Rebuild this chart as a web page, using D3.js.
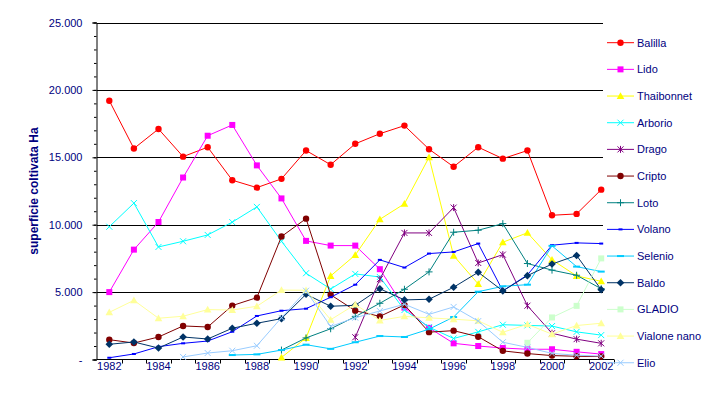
<!DOCTYPE html>
<html lang="it">
<head>
<meta charset="UTF-8">
<title>Superficie coltivata per varietà</title>
<script src="https://cdn.jsdelivr.net/npm/d3@7/dist/d3.min.js"></script>
<style>
  body { margin: 0; background: #fff; }
  text { font-family: Arial, "Liberation Sans", sans-serif; }
</style>
</head>
<body>
<svg id="chart" width="707" height="395"></svg>
<script>
// anni e valori (ettari)
const years = d3.range(1982, 2003);
const yearLabels = [1982, 1984, 1986, 1988, 1990, 1992, 1994, 1996, 1998, 2000, 2002];
const yTicks = [0, 5000, 10000, 15000, 20000, 25000];

const balilla = [19200, 15650, 17100, 15050, 15750, 13300, 12750, 13400, 15500, 14450, 16000, 16750, 17350, 15600, 14300, 15750, 14900, 15500, 10700, 10800, 12600];
const lido = [5000, 8150, 10200, 13500, 16600, 17400, 14400, 11950, 8800, 8450, 8450, 6700, 3850, 2350, 1200, 1000, 850, 760, 760, 570, 400];
const thaibonnet = [null, null, null, null, null, null, null, 150, 1600, 6200, 7750, 10400, 11550, 15000, 7700, 5600, 8700, 9400, 7400, 6200, 5800];
const arborio = [9850, 11600, 8350, 8770, 9240, 10190, 11320, 8770, 6400, 5230, 6350, 6120, 3670, 2400, 1560, 2050, 2580, 2530, 2480, 2050, 1810];
const drago = [null, null, null, null, null, null, null, null, null, null, 1650, 5960, 9390, 9390, 11270, 7160, 7780, 3990, 1950, 1510, 1200];
const cripto = [1470, 1220, 1670, 2490, 2410, 4000, 4590, 9120, 10450, 4800, 3620, 3200, 4050, 2030, 2140, 1690, 640, 440, 290, 240, 220];
const loto = [null, null, null, null, null, null, null, 700, 1600, 2280, 3180, 4170, 5210, 6500, 9440, 9590, 10080, 7120, 6630, 6250, 5250];
const volano = [130, 410, 950, 1200, 1370, 2060, 3230, 3620, 3770, 4620, 5550, 7390, 6820, 7860, 7980, 8600, 5090, 6270, 8480, 8650, 8600];
const selenio = [null, null, null, null, null, 330, 380, 700, 1100, 790, 1280, 1740, 1670, 2250, 3150, 5030, 5430, 5550, 8430, 6890, 6520];
const baldo = [1130, 1300, 850, 1670, 1520, 2320, 2690, 3030, 4840, 3950, 4020, 5250, 4420, 4470, 5360, 6470, 5090, 6220, 7080, 7720, 5180];
const gladio = [null, null, null, null, null, null, null, null, null, null, null, null, null, null, null, null, null, 1240, 3120, 3980, 7500];
const vialone = [3500, 4390, 3060, 3210, 3700, 3670, 3950, 5150, 5140, 2950, 4080, 2900, 3200, 3090, 2990, 2870, 2020, 2610, 1880, 2520, 2690];
const elio = [null, null, null, 190, 480, 650, 1020, 3100, 5100, 2450, 3100, 3600, 4100, 3350, 3900, 2850, 1280, 900, 450, 320, 250];

const names = ["Balilla", "Lido", "Thaibonnet", "Arborio", "Drago", "Cripto", "Loto", "Volano", "Selenio", "Baldo", "GLADIO", "Vialone nano", "Elio"];
const valueLists = [balilla, lido, thaibonnet, arborio, drago, cripto, loto, volano, selenio, baldo, gladio, vialone, elio];
const colors = ["#FF0000", "#FF00FF", "#FFFF00", "#00FFFF", "#800080", "#800000", "#008080", "#0000FF", "#00CCFF", "#003366", "#CCFFCC", "#FFFF99", "#99CCFF"];
const markers = ["circle", "square", "triangle", "cross", "star", "circle", "plus", "dash", "longdash", "diamond", "square", "triangle", "cross"];

const series = names.map((name, i) => ({
    name: name,
    color: colors[i],
    marker: markers[i],
    points: years.map((yr, j) => ({ year: yr, v: valueLists[i][j] }))
}));

const navy = "#000080";
const svg = d3.select("#chart");

const x = d3.scaleBand().domain(years).range([97, 613.5]);
const y = d3.scaleLinear().domain([0, 25000]).range([359.5, 22.5]);
const cx = yr => x(yr) + x.bandwidth() / 2;

// griglia orizzontale
svg.append("g")
    .selectAll("line")
    .data(yTicks.slice(1))
    .enter()
    .append("line")
    .attr("x1", 97).attr("x2", 603)
    .attr("y1", d => Math.round(y(d)) + 0.5).attr("y2", d => Math.round(y(d)) + 0.5)
    .attr("stroke", "#000");

// asse Y: tacche minori ogni 1000
svg.append("g")
    .attr("transform", "translate(96.5,0)")
    .call(d3.axisLeft(y).tickValues(d3.range(0, 25001, 1000)).tickSize(2.5).tickFormat(""))
    .call(g => g.select(".domain").remove())
    .selectAll("line").attr("stroke", "#000");

// asse Y: tacche principali ed etichette
const yFmt = d => d === 0 ? "-" : d3.format(",")(d).replace(",", ".");
const yAxis = svg.append("g")
    .attr("transform", "translate(96.5,0)")
    .call(d3.axisLeft(y).tickValues(yTicks).tickSize(4).tickPadding(10).tickFormat(yFmt));
yAxis.select(".domain").attr("stroke", "#000");
yAxis.selectAll("line").attr("stroke", "#000");
yAxis.selectAll("text").attr("fill", navy).attr("font-size", "11px")
    .attr("font-family", "Arial, 'Liberation Sans', sans-serif");

// asse X
svg.append("line")
    .attr("x1", 97).attr("x2", 614)
    .attr("y1", 359.5).attr("y2", 359.5)
    .attr("stroke", "#000");
svg.append("g")
    .selectAll("line")
    .data(years.slice(1).map(yr => x(yr)).concat([613.5]))
    .enter()
    .append("line")
    .attr("x1", d => Math.round(d) + 0.5).attr("x2", d => Math.round(d) + 0.5)
    .attr("y1", 359.5).attr("y2", 363.5)
    .attr("stroke", "#000");
const xAxis = svg.append("g")
    .attr("transform", "translate(0,359.5)")
    .call(d3.axisBottom(x).tickValues(yearLabels).tickSize(0).tickPadding(3));
xAxis.select(".domain").remove();
xAxis.selectAll("text").attr("fill", navy).attr("font-size", "11px")
    .attr("font-family", "Arial, 'Liberation Sans', sans-serif");

// titolo asse Y
svg.append("text")
    .attr("transform", "translate(38,191) rotate(-90)")
    .attr("text-anchor", "middle")
    .attr("font-size", "12px")
    .attr("font-weight", "bold")
    .attr("fill", navy)
    .text("superficie coltivata Ha");

// marcatori in stile Excel
function drawMarker(g, type, color, px, py) {
    if (type === "circle") {
        g.append("circle").attr("cx", px).attr("cy", py).attr("r", 3.2).attr("fill", color);
    } else if (type === "square") {
        g.append("rect").attr("x", px - 3).attr("y", py - 3).attr("width", 6).attr("height", 6).attr("fill", color);
    } else if (type === "triangle") {
        g.append("path").attr("d", "M0,-3.8L3.8,3L-3.8,3Z")
            .attr("transform", `translate(${px},${py})`).attr("fill", color);
    } else if (type === "diamond") {
        g.append("path").attr("d", "M0,-3.8L3.8,0L0,3.8L-3.8,0Z")
            .attr("transform", `translate(${px},${py})`).attr("fill", color);
    } else if (type === "cross") {
        g.append("path").attr("d", "M-3,-3L3,3M-3,3L3,-3")
            .attr("transform", `translate(${px},${py})`).attr("stroke", color).attr("fill", "none");
    } else if (type === "star") {
        g.append("path").attr("d", "M-3,-3L3,3M-3,3L3,-3M0,-3.5V3.5")
            .attr("transform", `translate(${px},${py})`).attr("stroke", color).attr("fill", "none");
    } else if (type === "plus") {
        g.append("path").attr("d", "M-3.5,0H3.5M0,-3.5V3.5")
            .attr("transform", `translate(${px},${py})`).attr("stroke", color).attr("fill", "none");
    } else if (type === "dash") {
        g.append("rect").attr("x", px - 2).attr("y", py - 1).attr("width", 4).attr("height", 2).attr("fill", color);
    } else if (type === "longdash") {
        g.append("rect").attr("x", px - 3.5).attr("y", py - 1).attr("width", 7).attr("height", 2).attr("fill", color);
    }
}

// serie
const line = d3.line()
    .defined(d => d.v != null)
    .x(d => cx(d.year))
    .y(d => y(d.v));

series.forEach(s => {
    const g = svg.append("g");
    g.append("path")
        .attr("d", line(s.points))
        .attr("fill", "none")
        .attr("stroke", s.color)
        .attr("stroke-width", 1);
    s.points.filter(d => d.v != null).forEach(d => drawMarker(g, s.marker, s.color, cx(d.year), y(d.v)));
});

// legenda
const legend = svg.append("g");
series.forEach((s, i) => {
    const ly = 42.7 + i * 26.67;
    const g = legend.append("g");
    g.append("line")
        .attr("x1", 607).attr("x2", 634)
        .attr("y1", ly).attr("y2", ly)
        .attr("stroke", s.color);
    drawMarker(g, s.marker, s.color, 620.5, ly);
    g.append("text")
        .attr("x", 637).attr("y", ly).attr("dy", "0.35em")
        .attr("font-size", "11px")
        .attr("fill", navy)
        .text(s.name);
});
</script>
</body>
</html>
